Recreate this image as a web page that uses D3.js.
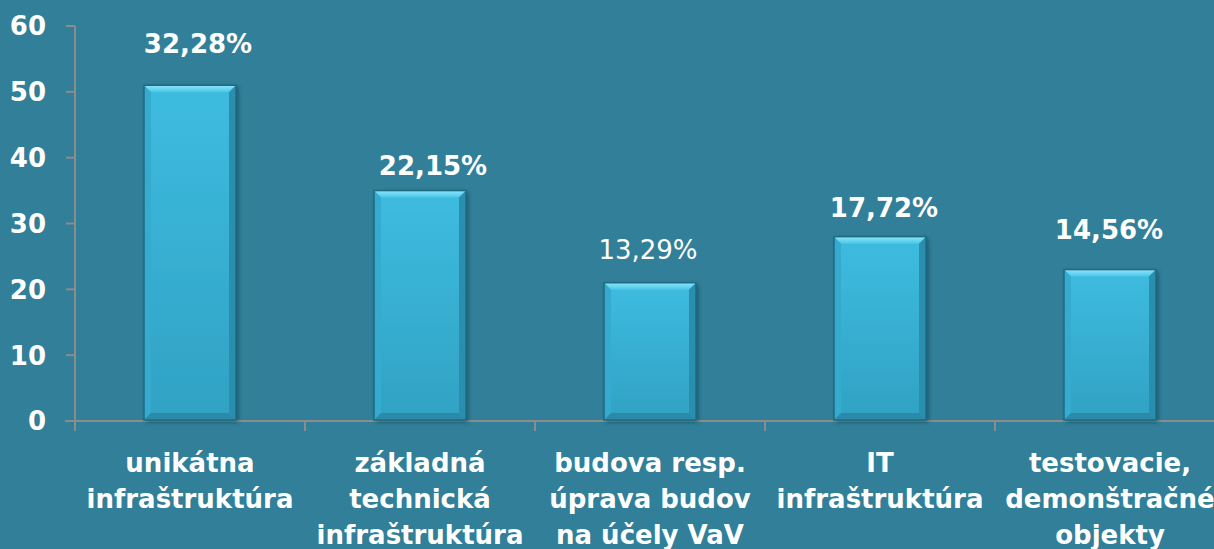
<!DOCTYPE html>
<html><head><meta charset="utf-8">
<script src="https://cdn.jsdelivr.net/npm/d3@7"></script>
<style>
html,body{margin:0;padding:0;background:#317f98;}
svg{display:block;}
</style></head>
<body>
<svg id="chart" width="1214" height="549"></svg>
<script>
const categories = [
  ["unikátna","infraštruktúra"],
  ["základná","technická","infraštruktúra"],
  ["budova resp.","úprava budov","na účely VaV"],
  ["IT","infraštruktúra"],
  ["testovacie,","demonštračné","objekty"]
];
const values = [51, 35, 21, 28, 23];
const valueLabels = ["32,28%","22,15%","13,29%","17,72%","14,56%"];
const labelBold = [true, true, false, true, true];
const yTicks = [0,10,20,30,40,50,60];

// manual label placement offsets (layout, as in the original slide)
const labelDx = [8, 13, -2, 4, -1];
const labelGap = [32, 16, 24, 20, 31];

const svg = d3.select("#chart");
const W = 1214, H = 549;
const x0 = 75, y0 = 421, yTop = 26;
const font = "'DejaVu Sans', Verdana, sans-serif";

const x = d3.scaleBand().domain(d3.range(values.length)).range([x0, x0 + 230*values.length]).paddingInner(0.6).paddingOuter(0.3);
const y = d3.scaleLinear().domain([0,60]).range([y0, yTop]);

const defs = svg.append("defs");
const g1 = defs.append("linearGradient").attr("id","barGrad").attr("x1",0).attr("x2",0).attr("y1",0).attr("y2",1);
g1.append("stop").attr("offset","0%").attr("stop-color","#3dbce0");
g1.append("stop").attr("offset","100%").attr("stop-color","#31a2c3");
const g2 = defs.append("linearGradient").attr("id","bevelTop").attr("x1",0).attr("x2",0).attr("y1",0).attr("y2",1);
g2.append("stop").attr("offset","0%").attr("stop-color","#8ee6fb");
g2.append("stop").attr("offset","100%").attr("stop-color","#48c6e8");
const f = defs.append("filter").attr("id","shadow").attr("x","-20%").attr("y","-20%").attr("width","140%").attr("height","140%");
f.append("feDropShadow").attr("dx",2).attr("dy",2).attr("stdDeviation",2).attr("flood-color","#0a3340").attr("flood-opacity",0.6);

// axes
const axisColor = "#8c8c8c";
svg.append("line").attr("x1",x0-10).attr("x2",W).attr("y1",y0).attr("y2",y0).attr("stroke",axisColor).attr("stroke-width",2);
svg.append("line").attr("x1",x0).attr("x2",x0).attr("y1",y(60)).attr("y2",y0+10).attr("stroke",axisColor).attr("stroke-width",2);
yTicks.forEach(t => {
  svg.append("line").attr("x1",x0-9).attr("x2",x0).attr("y1",y(t)).attr("y2",y(t)).attr("stroke",axisColor).attr("stroke-width",2);
  svg.append("text").attr("x",46).attr("y",y(t)).attr("dy","0.36em").attr("text-anchor","end")
    .attr("fill","#fff").attr("font-family",font).attr("font-weight","bold").attr("font-size",26).text(t);
});
d3.range(values.length+1).forEach(i => {
  const xx = x0 + i*x.step();
  svg.append("line").attr("x1",xx).attr("x2",xx).attr("y1",y0).attr("y2",y0+10).attr("stroke",axisColor).attr("stroke-width",2);
});

// bars
const bw = x.bandwidth();
const bev = 7;
values.forEach((v,i) => {
  const bx = x(i), by = y(v), bh = y0 - by;
  const g = svg.append("g");
  g.append("rect").attr("x",bx).attr("y",by).attr("width",bw).attr("height",bh-1).attr("fill","url(#barGrad)").attr("filter","url(#shadow)");
  g.append("polygon").attr("points",[[bx,by],[bx+bw,by],[bx+bw-bev,by+bev],[bx+bev,by+bev]].map(p=>p.join(",")).join(" ")).attr("fill","url(#bevelTop)");
  g.append("polygon").attr("points",[[bx,by],[bx+bev,by+bev],[bx+bev,y0-1-bev],[bx,y0-1]].map(p=>p.join(",")).join(" ")).attr("fill","#36abd0");
  g.append("polygon").attr("points",[[bx+bw,by],[bx+bw,y0-1],[bx+bw-bev,y0-1-bev],[bx+bw-bev,by+bev]].map(p=>p.join(",")).join(" ")).attr("fill","#2a8fae");
  g.append("polygon").attr("points",[[bx,y0-1],[bx+bw,y0-1],[bx+bw-bev,y0-1-bev],[bx+bev,y0-1-bev]].map(p=>p.join(",")).join(" ")).attr("fill","#2a8aa8");
  g.append("rect").attr("x",bx).attr("y",by).attr("width",bw).attr("height",bh-1).attr("fill","none").attr("stroke","#1f6b82").attr("stroke-width",1.5);
  svg.append("text").attr("x",bx+bw/2+labelDx[i]).attr("y",by-labelGap[i]).attr("text-anchor","middle")
    .attr("fill","#fff").attr("font-family",font).attr("font-weight",labelBold[i]?"bold":"normal").attr("font-size",26)
    .text(valueLabels[i]);
});

// category labels
categories.forEach((lines,i) => {
  const cx = x(i) + bw/2;
  const t = svg.append("text").attr("text-anchor","middle").attr("fill","#fff").attr("font-family",font).attr("font-weight","bold").attr("font-size",26);
  lines.forEach((ln,j) => {
    t.append("tspan").attr("x",cx).attr("y",472 + j*36).text(ln);
  });
});
</script>
</body></html>
